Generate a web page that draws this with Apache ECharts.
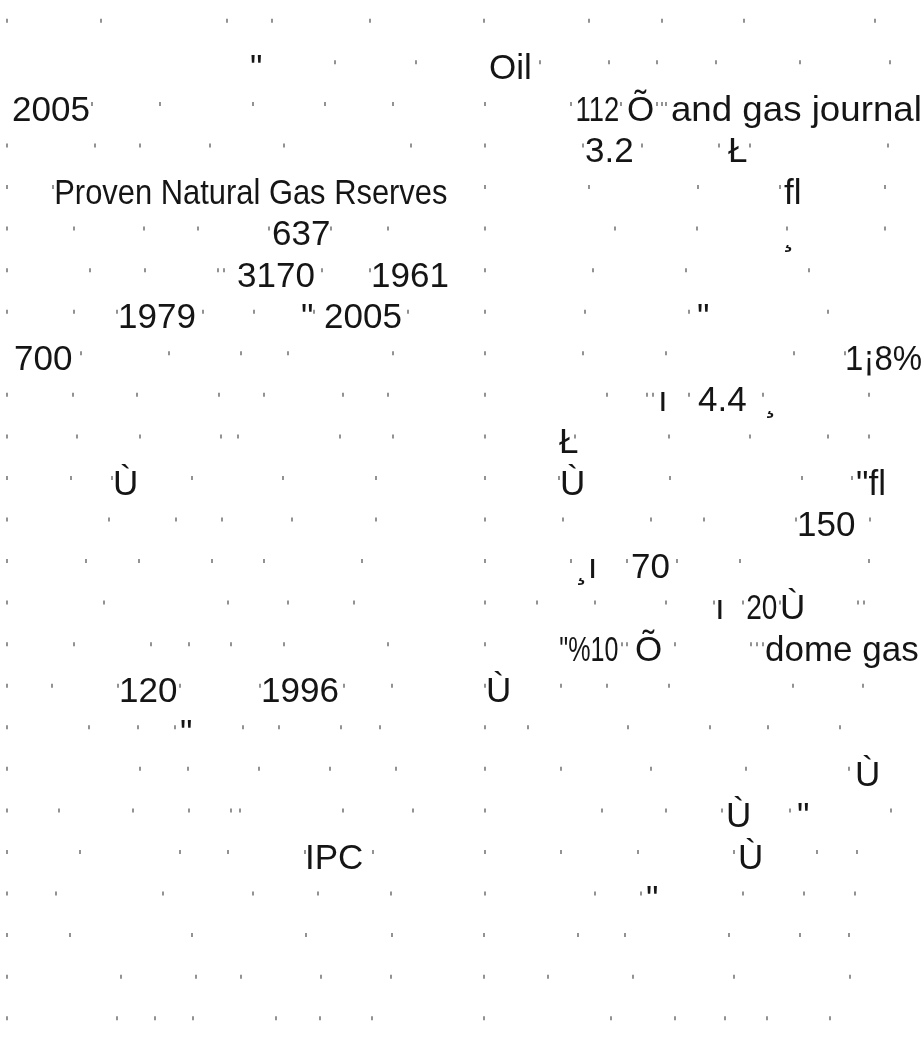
<!DOCTYPE html>
<html>
<head>
<meta charset="utf-8">
<script src="https://cdn.jsdelivr.net/npm/echarts@6/dist/echarts.min.js"></script>
<style>
  html, body { margin: 0; padding: 0; background: #fff; }
  #chart { width: 922px; height: 1039px; }
</style>
</head>
<body>
<div id="chart"></div>
<script>
// 行号 0..24，每行一条
const rows = ['0','1','2','3','4','5','6','7','8','9','10','11','12','13','14','15','16','17','18','19','20','21','22','23','24'];

// 每行的小竖点 (x 位置)
const rowTicks = [
  [7, 101, 227, 272, 370, 484, 589, 662, 744, 875],
  [335, 416, 540, 609, 657, 716, 800, 890],
  [92, 160, 253, 325, 393, 485, 571, 621, 657, 662, 666],
  [7, 95, 140, 210, 284, 411, 485, 583, 642, 719, 750, 888],
  [7, 53, 485, 589, 698, 780, 885],
  [7, 74, 144, 198, 269, 331, 388, 485, 615, 697, 787, 885],
  [7, 90, 145, 218, 224, 322, 370, 485, 593, 686, 809],
  [7, 74, 117, 203, 254, 314, 408, 485, 585, 689, 828],
  [81, 169, 241, 288, 393, 485, 583, 666, 794, 845],
  [7, 73, 137, 219, 264, 343, 388, 485, 607, 647, 653, 689, 763, 869],
  [7, 77, 140, 221, 238, 340, 393, 485, 575, 669, 750, 828, 869],
  [7, 71, 112, 192, 283, 376, 485, 559, 670, 802, 852],
  [7, 109, 176, 222, 292, 376, 485, 563, 651, 704, 796, 870],
  [7, 86, 139, 212, 264, 362, 485, 571, 627, 677, 740, 869],
  [7, 104, 228, 288, 354, 485, 537, 595, 666, 714, 743, 780, 858, 864],
  [7, 74, 151, 189, 231, 284, 388, 485, 622, 627, 675, 751, 757, 763],
  [7, 52, 118, 180, 260, 344, 392, 485, 561, 607, 669, 793, 863],
  [7, 89, 138, 175, 243, 279, 341, 380, 485, 528, 628, 710, 768, 840],
  [7, 140, 188, 259, 330, 396, 485, 561, 651, 746, 849],
  [7, 59, 133, 189, 231, 240, 343, 413, 485, 602, 666, 722, 790, 891],
  [7, 80, 180, 228, 305, 373, 485, 561, 638, 734, 817, 857],
  [7, 56, 163, 253, 318, 391, 485, 595, 641, 743, 804, 855],
  [7, 70, 192, 306, 392, 484, 578, 625, 729, 800, 849],
  [7, 121, 196, 241, 321, 391, 484, 548, 633, 734, 850],
  [7, 117, 155, 193, 276, 320, 372, 484, 611, 675, 725, 767, 830]
];

// 文字片段: [行号, 左端x, 右端x(只在字宽明显不同处给出), 文本]
const textItems = [
  [1, 251, null, '"'], [1, 490, null, 'Oil'],
  [2, 13, null, '2005'], [2, 577, 618, '112'], [2, 628, null, 'Õ'], [2, 672, 920, 'and gas journal'],
  [3, 586, null, '3.2'], [3, 728, null, 'Ł'],
  [4, 56, 447, 'Proven Natural Gas Rserves'], [4, 784, null, 'fl'],
  [5, 273, null, '637'], [5, 785, null, '¸'],
  [6, 238, null, '3170'], [6, 373, null, '1961'],
  [7, 120, null, '1979'], [7, 302, null, '"'], [7, 325, null, '2005'], [7, 698, null, '"'],
  [8, 15, null, '700'], [8, 847, 921, '1¡8%'],
  [9, 661, null, 'ı'], [9, 698, null, '4.4'], [9, 767, null, '¸'],
  [10, 559, null, 'Ł'],
  [11, 115, null, 'Ù'], [11, 562, null, 'Ù'], [11, 857, null, '"fl'],
  [12, 799, null, '150'],
  [13, 578, null, '¸ı'], [13, 632, null, '70'],
  [14, 718, null, 'ı'], [14, 747, 777, '20'], [14, 782, null, 'Ù'],
  [15, 560, 618, '"%10'], [15, 636, null, 'Õ'], [15, 766, null, 'dome gas'],
  [16, 121, null, '120'], [16, 263, null, '1996'], [16, 488, null, 'Ù'],
  [17, 181, null, '"'],
  [18, 857, null, 'Ù'],
  [19, 728, null, 'Ù'], [19, 798, null, '"'],
  [20, 308, null, 'IPC'], [20, 740, null, 'Ù'],
  [21, 647, null, '"']
];

const FONT_SIZE = 35;
const FONT_FAMILY = '"Liberation Sans", Arial, sans-serif';
const measureCtx = document.createElement('canvas').getContext('2d');
measureCtx.font = FONT_SIZE + 'px ' + FONT_FAMILY;

const chart = echarts.init(document.getElementById('chart'));

const tickData = [];
rowTicks.forEach((xs, r) => xs.forEach(x => tickData.push([x, r])));

const textData = textItems.map(t => [t[1], t[0], t[2] == null ? t[1] : t[2]]);

function renderText(params, api) {
  const item = textItems[params.dataIndex];
  const left = api.coord([api.value(0), api.value(1)]);
  const right = api.coord([api.value(2), api.value(1)]);
  const m = measureCtx.measureText(item[3]);
  const ink = m.actualBoundingBoxLeft + m.actualBoundingBoxRight;
  // 给了右端的按量到的宽度横向压缩，其余原样
  const s = item[2] == null ? 1 : (right[0] - left[0]) / ink;
  return {
    type: 'text',
    x: left[0] + m.actualBoundingBoxLeft * s,
    y: left[1] + 7,
    scaleX: s,
    style: {
      text: item[3],
      fontSize: FONT_SIZE,
      fontFamily: FONT_FAMILY,
      fill: '#151515',
      align: 'left',
      verticalAlign: 'middle'
    }
  };
}

const option = {
  backgroundColor: '#ffffff',
  animation: false,
  grid: {
    left: 0,
    top: -2,
    width: 922,
    height: 1060
  },
  xAxis: {
    type: 'value',
    min: 0,
    max: 922,
    show: false
  },
  yAxis: {
    type: 'category',
    data: rows,
    inverse: true,
    boundaryGap: true,
    show: false
  },
  series: [
    {
      name: 'ticks',
      type: 'scatter',
      data: tickData,
      symbol: 'rect',
      symbolSize: [1.6, 4],
      itemStyle: { color: '#555' },
      silent: true
    },
    {
      name: 'texts',
      type: 'custom',
      data: textData,
      encode: { x: [0, 2], y: 1 },
      renderItem: renderText,
      silent: true,
      clip: false
    }
  ]
};

chart.setOption(option);
</script>
</body>
</html>
